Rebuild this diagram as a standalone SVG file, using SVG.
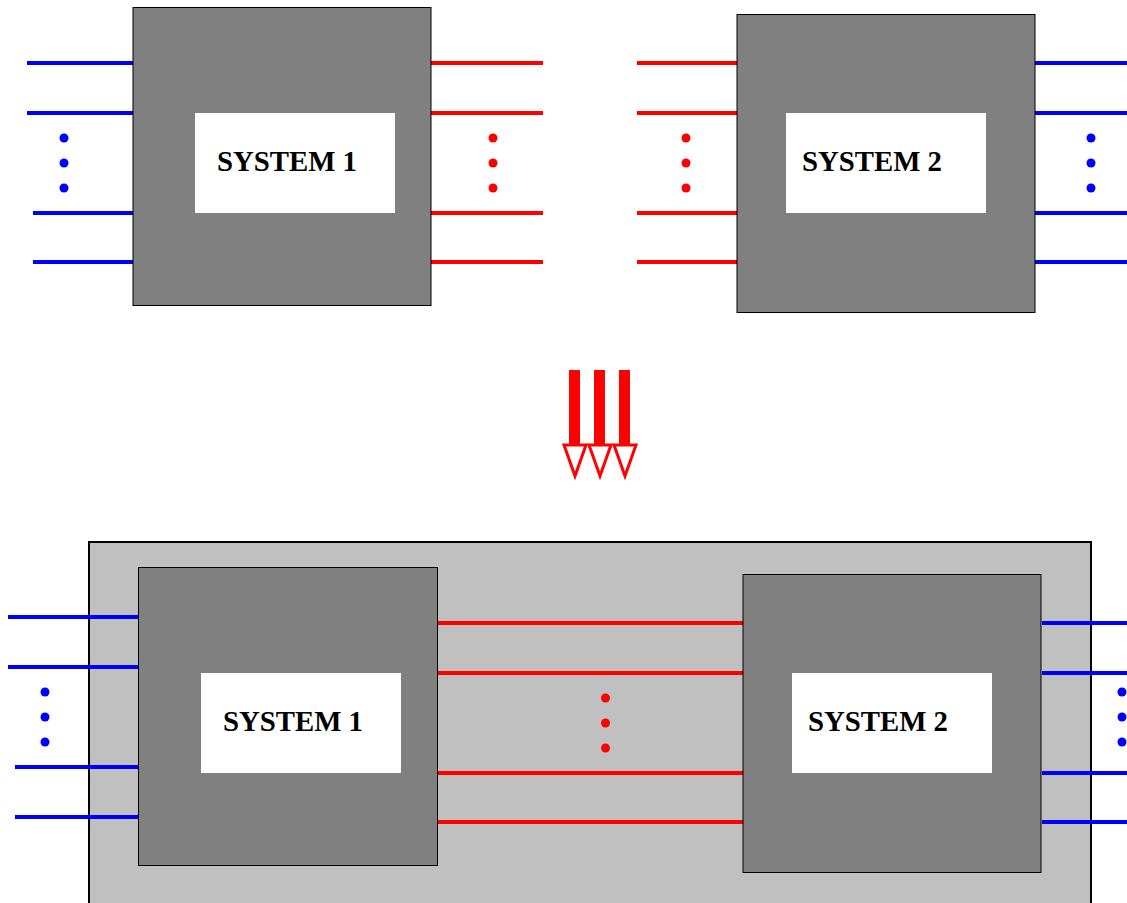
<svg xmlns="http://www.w3.org/2000/svg" width="1127" height="903" viewBox="0 0 1127 903">
<style>
.sys{fill:#808080;stroke:#000;stroke-width:1}
.inner{fill:#fff}
.lbl{font-family:"Liberation Serif",serif;font-weight:bold;font-size:30px;fill:#000}
.b{stroke:#0000ff;stroke-width:4;fill:none}
.r{stroke:#ff0000;stroke-width:4;fill:none}
.bd{fill:#0000ff}
.rd{fill:#ff0000}
.shaft{fill:#ff0000}
.head{fill:#fff;stroke:#ff0000;stroke-width:3;stroke-linejoin:miter}
</style>
<rect width="1127" height="903" fill="#fff"/>
<g id="combined">
<rect x="89" y="542" width="1002" height="370" fill="#c0c0c0" stroke="#000" stroke-width="2"/>
</g>
<g id="connectors">
<path class="b" d="M27 63H133M27 113H133M33 213H133M33 262H133"/>
<path class="r" d="M431 63H543M431 113H543M431 213H543M431 262H543"/>
<path class="r" d="M637 63H737M637 113H737M637 213H737M637 262H737"/>
<path class="b" d="M1035 63H1127M1035 113H1127M1035 213H1127M1035 262H1127"/>
<path class="b" d="M8 617H138M8 667H138M15 767H138M15 817H138"/>
<path class="r" d="M438 623H743M438 673H743M438 773H743M438 822H743"/>
<path class="b" d="M1042 623H1127M1042 673H1127M1042 773H1127M1042 822H1127"/>
</g>
<g id="dots">
<circle class="bd" cx="64" cy="138" r="4.5"/><circle class="bd" cx="64" cy="163" r="4.5"/><circle class="bd" cx="64" cy="188" r="4.5"/>
<circle class="rd" cx="493" cy="138" r="4.5"/><circle class="rd" cx="493" cy="163" r="4.5"/><circle class="rd" cx="493" cy="188" r="4.5"/>
<circle class="rd" cx="686" cy="138" r="4.5"/><circle class="rd" cx="686" cy="163" r="4.5"/><circle class="rd" cx="686" cy="188" r="4.5"/>
<circle class="bd" cx="1091" cy="138" r="4.5"/><circle class="bd" cx="1091" cy="163" r="4.5"/><circle class="bd" cx="1091" cy="188" r="4.5"/>
<circle class="bd" cx="45" cy="692" r="4.5"/><circle class="bd" cx="45" cy="717" r="4.5"/><circle class="bd" cx="45" cy="742" r="4.5"/>
<circle class="rd" cx="605.5" cy="698" r="4.5"/><circle class="rd" cx="605.5" cy="723" r="4.5"/><circle class="rd" cx="605.5" cy="748" r="4.5"/>
<circle class="bd" cx="1122" cy="692" r="4.5"/><circle class="bd" cx="1122" cy="717" r="4.5"/><circle class="bd" cx="1122" cy="742" r="4.5"/>
</g>
<g id="sys1-top">
<rect class="sys" x="133" y="7.5" width="298" height="298"/>
<rect class="inner" x="195" y="113" width="200" height="100"/>
<text class="lbl" x="217" y="170.5" textLength="140" lengthAdjust="spacingAndGlyphs">SYSTEM 1</text>
</g>
<g id="sys2-top">
<rect class="sys" x="737" y="14.5" width="298" height="298"/>
<rect class="inner" x="786" y="113" width="200" height="100"/>
<text class="lbl" x="802" y="170.5" textLength="140" lengthAdjust="spacingAndGlyphs">SYSTEM 2</text>
</g>
<g id="arrows">
<rect class="shaft" x="569" y="370" width="11" height="75"/>
<rect class="shaft" x="594" y="370" width="11" height="75"/>
<rect class="shaft" x="619" y="370" width="11" height="75"/>
<path class="head" d="M564 445H586L575 476Z"/>
<path class="head" d="M589 445H611L600 476Z"/>
<path class="head" d="M614 445H636L625 476Z"/>
</g>
<g id="sys1-bottom">
<rect class="sys" x="138.5" y="567.5" width="299" height="298"/>
<rect class="inner" x="201" y="673" width="200" height="100"/>
<text class="lbl" x="223" y="730.5" textLength="140" lengthAdjust="spacingAndGlyphs">SYSTEM 1</text>
</g>
<g id="sys2-bottom">
<rect class="sys" x="743" y="574.5" width="298" height="298"/>
<rect class="inner" x="792" y="673" width="200" height="100"/>
<text class="lbl" x="808" y="730.5" textLength="140" lengthAdjust="spacingAndGlyphs">SYSTEM 2</text>
</g>
</svg>
